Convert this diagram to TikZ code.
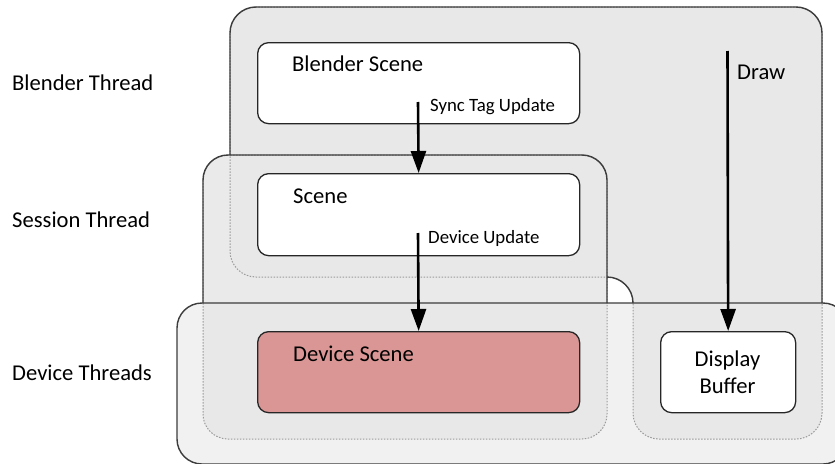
\documentclass[tikz,border=0pt]{standalone}
\usepackage{fontspec}
\setmainfont{Carlito}
\usetikzlibrary{arrows.meta}
\definecolor{regfill}{HTML}{E8E8E8}
\definecolor{regline}{HTML}{3C3C3C}
\definecolor{hidline}{HTML}{9A9A9A}
\definecolor{devfill}{HTML}{D99694}
\tikzset{
  bigtext/.style={font=\fontsize{22.6}{26}\selectfont, inner sep=0pt},
  smalltext/.style={font=\fontsize{18.8}{22}\selectfont, inner sep=0pt},
  boxnode/.style={draw=black!85, line width=1.3pt, rounded corners=11pt, inner sep=0pt, anchor=north west},
  flow/.style={line width=2.6pt, -{Triangle[length=22pt,width=15pt]}},
  hiddenline/.style={draw=hidline, line width=1pt, dash pattern=on 1.5pt off 1.5pt},
  regborder/.style={draw=regline, line width=1.4pt},
}
\begin{document}
\begin{tikzpicture}[x=1pt,y=-1pt]
\clip (0,0) rectangle (835,463);
\fill[white] (0,0) rectangle (835,463);
% region fills
\fill[regfill, rounded corners=26pt] (500,7) -- (822,7) -- (822,439) -- (633,439) -- (633,277) -- (230,277) -- (230,7) -- cycle;
\fill[regfill, fill opacity=0.9, rounded corners=25pt] (203,155) rectangle (607,439);
\fill[regfill, fill opacity=0.6, rounded corners=25pt] (177,303) rectangle (848,464);
% hidden borders
\draw[hiddenline, rounded corners=26pt] (500,7) -- (822,7) -- (822,439) -- (633,439) -- (633,277) -- (230,277) -- (230,7) -- cycle;
\draw[hiddenline, rounded corners=25pt] (203,155) rectangle (607,439);
% visible Blender border
\begin{scope}[even odd rule, rounded corners=25pt]
  \clip (-20,-20) rectangle (900,500) (203,155) rectangle (607,439);
  \begin{scope}
    \clip (-20,-20) rectangle (900,500) (177,303) rectangle (848,464);
    \draw[regborder, rounded corners=26pt] (500,7) -- (822,7) -- (822,439) -- (633,439) -- (633,277) -- (230,277) -- (230,7) -- cycle;
  \end{scope}
\end{scope}
% visible Session border
\begin{scope}[even odd rule, rounded corners=25pt]
  \clip (-20,-20) rectangle (900,500) (177,303) rectangle (848,464);
  \draw[regborder] (203,155) rectangle (607,439);
\end{scope}
% Device border
\draw[regborder, rounded corners=25pt] (177,303) rectangle (848,464);

% thread labels
\node[bigtext, anchor=base west] (lblblender) at (12,90) {Blender Thread};
\node[bigtext, anchor=base west] (lblsession) at (12,227) {Session Thread};
\node[bigtext, anchor=base west] (lbldevice) at (12,380) {Device Threads};

% boxes
\node[boxnode, fill=white, minimum width=322pt, minimum height=81pt] (bscene) at (257,42) {};
\node[boxnode, fill=white, minimum width=322pt, minimum height=82pt] (scene) at (257,173) {};
\node[boxnode, fill=devfill, minimum width=322pt, minimum height=81pt] (dscene) at (257,331) {};
\node[boxnode, fill=white, minimum width=135pt, minimum height=81pt] (disp) at (660,331) {};

\node[bigtext, anchor=base west] (tbscene) at (292,71) {Blender Scene};
\node[bigtext, anchor=base west] (tscene) at (293,203) {Scene};
\node[bigtext, anchor=base west] (tdscene) at (293,361) {Device Scene};
\node[bigtext, anchor=base] (tdisp1) at (727.5,366) {Display};
\node[bigtext, anchor=base] (tdisp2) at (727.5,393) {Buffer};

% arrows
\coordinate (syncstart) at (418,102);
\coordinate (devstart) at (418,233);
\coordinate (drawstart) at (727.5,51);
\draw[flow] (syncstart) -- (scene.north);
\draw[flow] (devstart) -- (dscene.north);
\draw[flow] (drawstart) -- (disp.north);

\node[smalltext, anchor=base west] (tsync) at (430,111) {Sync Tag Update};
\node[smalltext, anchor=base west] (tdevupd) at (428,243) {Device Update};
\node[bigtext, anchor=base west] (tdraw) at (737,79) {Draw};
\end{tikzpicture}
\end{document}
